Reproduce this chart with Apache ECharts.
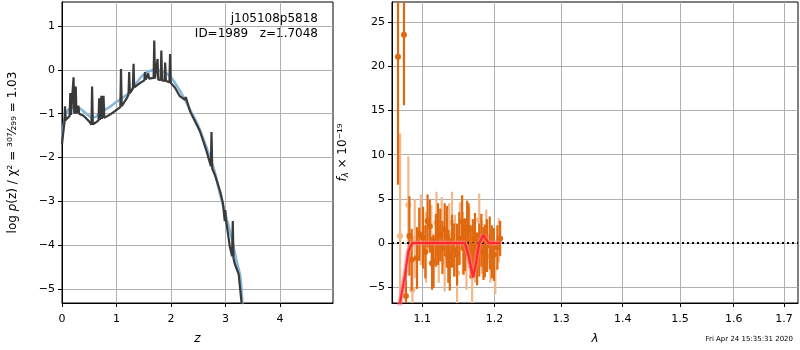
<!DOCTYPE html>
<html><head><meta charset="utf-8">
<script src="https://cdn.jsdelivr.net/npm/echarts@6/dist/echarts.min.js"></script>
<style>html,body{margin:0;padding:0;background:#fff}#c{width:800px;height:350px}</style>
</head><body><div id="c"></div>
<script>
// ---------- data ----------
// Left panel: log p(z) vs z
const pzSmooth = [[0.00,-1.55],[0.05,-1.12],[0.10,-0.93],[0.15,-0.88],[0.25,-0.85],[0.32,-0.87],[0.42,-0.97],[0.52,-1.07],[0.60,-1.08],[0.70,-0.98],[0.80,-0.90],[0.88,-0.84],[1.00,-0.73],[1.06,-0.68],[1.15,-0.60],[1.25,-0.50],[1.35,-0.33],[1.43,-0.19],[1.52,-0.08],[1.60,-0.03],[1.70,0.00],[1.80,-0.02],[1.90,-0.06],[2.00,-0.17],[2.10,-0.35],[2.20,-0.56],[2.30,-0.79],[2.40,-1.03],[2.50,-1.28],[2.60,-1.60],[2.70,-1.95],[2.80,-2.32],[2.90,-2.85],[3.00,-3.30],[3.10,-3.78],[3.20,-4.35],[3.27,-4.72],[3.31,-5.40]];
const pzFull = [[0.00,-1.70],[0.03,-1.35],[0.045,-1.20],[0.055,-0.83],[0.065,-1.15],[0.10,-1.10],[0.14,-1.05],[0.152,-0.53],[0.165,-1.03],[0.20,-1.00],[0.212,-0.17],[0.225,-1.00],[0.24,-1.00],[0.252,-0.38],[0.265,-1.00],[0.29,-1.00],[0.302,-0.82],[0.315,-1.00],[0.40,-1.05],[0.50,-1.18],[0.54,-1.25],[0.552,-0.38],[0.565,-1.24],[0.62,-1.20],[0.67,-1.15],[0.682,-0.65],[0.695,-1.14],[0.71,-1.12],[0.722,-0.59],[0.735,-1.12],[0.75,-1.10],[0.762,-0.59],[0.775,-1.09],[0.88,-1.02],[0.95,-0.96],[1.07,-0.85],[1.082,0.02],[1.095,-0.83],[1.20,-0.62],[1.22,-0.55],[1.232,-0.05],[1.245,-0.53],[1.30,-0.42],[1.312,0.14],[1.325,-0.40],[1.43,-0.30],[1.51,-0.24],[1.522,-0.05],[1.535,-0.22],[1.57,-0.20],[1.582,-0.08],[1.595,-0.20],[1.68,-0.18],[1.692,0.67],[1.705,-0.20],[1.74,-0.22],[1.752,0.25],[1.765,-0.22],[1.81,-0.23],[1.822,0.44],[1.835,-0.24],[1.88,-0.25],[1.892,0.17],[1.905,-0.25],[1.97,-0.28],[1.982,0.36],[1.995,-0.30],[2.07,-0.40],[2.16,-0.60],[2.25,-0.68],[2.27,-0.62],[2.35,-0.95],[2.45,-1.20],[2.53,-1.40],[2.65,-1.85],[2.73,-2.20],[2.742,-1.42],[2.755,-2.25],[2.81,-2.42],[2.90,-2.77],[2.95,-3.03],[2.985,-3.45],[2.995,-3.20],[3.005,-3.40],[3.08,-4.05],[3.12,-4.25],[3.132,-3.45],[3.145,-4.30],[3.17,-4.43],[3.24,-4.66],[3.30,-5.40]];
const leftXTicks = [0,1,2,3,4];
const leftYTicks = [-5,-4,-3,-2,-1,0,1];

// Right panel: spectrum points [lambda, flux, err]
const specDark = [[1.0683,21.1,14.5],[1.0760,23.6,8.0],[1.0785,-6.0,3.0],[1.083,0.8,4.5],[1.086,-1.9,3.5],[1.093,-1.7,3.5],[1.096,1.0,3.0],[1.101,0.6,3.5],[1.104,-1.0,3.0],[1.107,2.5,3.0],[1.110,1.9,3.0],[1.113,-2.3,3.0],[1.115,-2.1,3.0],[1.118,0.3,3.0],[1.121,1.0,3.5],[1.124,0.9,3.0],[1.127,-0.5,3.0],[1.130,1.5,3.0],[1.133,0.7,3.5],[1.135,-1.5,3.0],[1.137,-2.4,3.0],[1.140,0.2,3.0],[1.143,-0.8,3.0],[1.147,-1.3,3.5],[1.150,0.5,3.0],[1.154,2.4,3.0],[1.156,-0.6,3.0],[1.158,-0.2,3.0],[1.161,1.8,3.0],[1.163,1.5,3.0],[1.166,-1.0,3.0],[1.169,-0.3,3.0],[1.172,0.4,3.0],[1.175,-1.8,3.0],[1.178,-0.8,3.0],[1.181,0.3,3.0],[1.184,-1.2,3.0],[1.186,-0.9,3.0],[1.189,-0.3,3.0],[1.193,0.0,3.0],[1.196,-1.0,3.0],[1.199,-1.3,3.0],[1.204,-0.5,2.5],[1.208,0.5,2.0]];
const specLight = [[1.071,0.8,11.6],[1.0817,4.3,5.5],[1.087,-5.3,3.5],[1.090,0.5,4.5],[1.098,1.5,4.0],[1.105,-0.5,4.0],[1.112,0.8,3.5],[1.119,2.3,3.5],[1.122,-1.0,3.5],[1.126,1.7,3.5],[1.130,-2.0,3.5],[1.136,1.0,3.5],[1.140,2.3,3.5],[1.144,-0.3,3.5],[1.147,-3.4,3.5],[1.151,1.1,3.5],[1.155,0.0,3.5],[1.160,-1.8,3.5],[1.164,0.6,3.5],[1.168,-3.8,3.5],[1.172,-1.5,3.0],[1.178,2.6,3.0],[1.182,-0.5,3.0],[1.188,0.8,3.0],[1.194,-1.5,3.0],[1.201,-2.8,3.0],[1.206,0.3,2.5]];
const specModel = [[1.068,-9.0],[1.0705,-7.0],[1.077,-3.8],[1.0817,-0.9],[1.087,0.0],[1.120,0.0],[1.158,0.0],[1.163,-1.5],[1.1695,-3.9],[1.174,-2.0],[1.178,0.0],[1.184,0.9],[1.191,0.0],[1.208,0.0]];
const rightXTicks = [1.1,1.2,1.3,1.4,1.5,1.6,1.7];
const rightYTicks = [-5,0,5,10,15,20,25];
const lamRange = [1.0606,1.7288];

// ---------- chart ----------
const minus = v => String(v).replace('-', '\u2212');
const axisTxt = {color:'#000', fontSize:11, fontFamily:'DejaVu Sans'};
const lg = v => Math.log(v);

function errRender(color){
  return function(params, api){
    const x = api.value(0);
    const p1 = api.coord([x, api.value(1)]);
    const p2 = api.coord([x, api.value(2)]);
    const cs = params.coordSys;
    const clampY = y => Math.max(cs.y, Math.min(cs.y + cs.height, y));
    return {type:'line', shape:{x1:p1[0], y1:clampY(p1[1]), x2:p2[0], y2:clampY(p2[1])},
            style:{stroke:color, lineWidth:2.2}};
  };
}

const darkC = '#e0680e', lightC = '#f2b88a';
const nameStyle = {fontSize:12, fontStyle:'italic', color:'#000', fontFamily:'DejaVu Sans'};

const option = {
  animation:false,
  backgroundColor:'#fff',
  grid:[
    {left:62, top:2, width:271, height:302, show:true, borderColor:'#000', borderWidth:1},
    {left:392, top:2, width:406, height:302, show:true, borderColor:'#000', borderWidth:1}
  ],
  xAxis:[
    {gridIndex:0, type:'value', min:0, max:4.97,
     name:'z', nameLocation:'middle', nameGap:30, nameTextStyle:nameStyle,
     axisLine:{show:true, onZero:false, lineStyle:{color:'#000'}},
     axisTick:{show:true, length:4, lineStyle:{color:'#000'}, customValues:leftXTicks},
     axisLabel:Object.assign({customValues:leftXTicks, margin:11}, axisTxt),
     splitLine:{show:true, lineStyle:{color:'#b0b0b0', width:1}}},
    {gridIndex:1, type:'value', min:lg(lamRange[0]), max:lg(lamRange[1]),
     name:'λ', nameLocation:'middle', nameGap:30, nameTextStyle:nameStyle,
     axisLine:{show:true, onZero:false, lineStyle:{color:'#000'}},
     axisTick:{show:true, length:4, lineStyle:{color:'#000'}, customValues:rightXTicks.map(lg)},
     axisLabel:Object.assign({customValues:rightXTicks.map(lg), margin:11, formatter:v=>Math.exp(v).toFixed(1)}, axisTxt),
     splitLine:{show:true, lineStyle:{color:'#b0b0b0', width:1}}}
  ],
  yAxis:[
    {gridIndex:0, type:'value', min:-5.32, max:1.55,
     name:'{n|log }{i|p}{n|(z) / χ² = ³⁰⁷⁄₂₉₉ = 1.03}', nameLocation:'middle', nameGap:43,
     nameTextStyle:{rich:{n:{fontSize:12, color:'#000', fontFamily:'DejaVu Sans'}, i:{fontSize:12, fontStyle:'italic', color:'#000', fontFamily:'DejaVu Sans'}}},
     axisLine:{show:true, onZero:false, lineStyle:{color:'#000'}},
     axisTick:{show:true, length:4, lineStyle:{color:'#000'}, customValues:leftYTicks},
     axisLabel:Object.assign({customValues:leftYTicks, margin:7, formatter:minus}, axisTxt),
     splitLine:{show:true, lineStyle:{color:'#b0b0b0', width:1}}},
    {gridIndex:1, type:'value', min:-6.8, max:27.3,
     name:'{i|f}{s|λ}{n| × 10⁻¹⁹}', nameLocation:'middle', nameGap:42,
     nameTextStyle:{rich:{n:{fontSize:12, color:'#000', fontFamily:'DejaVu Sans'}, i:{fontSize:12, fontStyle:'italic', color:'#000', fontFamily:'DejaVu Sans'}, s:{fontSize:8.5, fontStyle:'italic', color:'#000', fontFamily:'DejaVu Sans', padding:[6,0,0,0]}}},
     axisLine:{show:true, onZero:false, lineStyle:{color:'#000'}},
     axisTick:{show:true, length:4, lineStyle:{color:'#000'}, customValues:rightYTicks},
     axisLabel:Object.assign({customValues:rightYTicks, margin:7, formatter:minus}, axisTxt),
     splitLine:{show:true, lineStyle:{color:'#b0b0b0', width:1}}}
  ],
  graphic:[
    {type:'text', right:482, top:13, style:{text:'j105108p5818', fontSize:12, fontFamily:'DejaVu Sans', fill:'#000', textAlign:'right'}},
    {type:'text', right:482, top:28, style:{text:'ID=1989   z=1.7048', fontSize:12, fontFamily:'DejaVu Sans', fill:'#000', textAlign:'right'}},
    {type:'text', right:7, top:336, style:{text:'Fri Apr 24 15:35:31 2020', fontSize:7, fontFamily:'DejaVu Sans', fill:'#000'}}
  ],
  series:[
    {type:'line', xAxisIndex:0, yAxisIndex:0, data:pzSmooth, showSymbol:false, smooth:0.3,
     lineStyle:{color:'#86b8dc', width:2.6}, z:2},
    {type:'line', xAxisIndex:0, yAxisIndex:0, data:pzFull, showSymbol:false,
     lineStyle:{color:'#3a3a3a', width:2.2}, z:3},
    {type:'custom', xAxisIndex:1, yAxisIndex:1, renderItem:errRender(lightC),
     data:specLight.map(d=>[lg(d[0]), d[1]-d[2], d[1]+d[2]]), encode:{x:0, y:[1,2]}, z:2},
    {type:'scatter', xAxisIndex:1, yAxisIndex:1, symbolSize:6,
     data:specLight.map(d=>[lg(d[0]), d[1]]), itemStyle:{color:lightC, opacity:1}, z:3},
    {type:'custom', xAxisIndex:1, yAxisIndex:1, renderItem:errRender(darkC),
     data:specDark.map(d=>[lg(d[0]), d[1]-d[2], d[1]+d[2]]), encode:{x:0, y:[1,2]}, z:4},
    {type:'scatter', xAxisIndex:1, yAxisIndex:1, symbolSize:6,
     data:specDark.map(d=>[lg(d[0]), d[1]]), itemStyle:{color:darkC, opacity:1}, z:5},
    {type:'line', xAxisIndex:1, yAxisIndex:1, data:specModel.map(d=>[lg(d[0]), d[1]]), showSymbol:false,
     lineStyle:{color:'#ff7a8a', width:5, opacity:0.6}, z:6},
    {type:'line', xAxisIndex:1, yAxisIndex:1, data:specModel.map(d=>[lg(d[0]), d[1]]), showSymbol:false,
     lineStyle:{color:'#ff2020', width:2.2, opacity:0.9}, z:7,
     markLine:{symbol:'none', silent:true, label:{show:false}, data:[{yAxis:0}],
       lineStyle:{color:'#000', type:[2,3], width:2}}}
  ]
};
const chart = echarts.init(document.getElementById('c'), null, {renderer:'canvas'});
chart.setOption(option);
</script></body></html>
